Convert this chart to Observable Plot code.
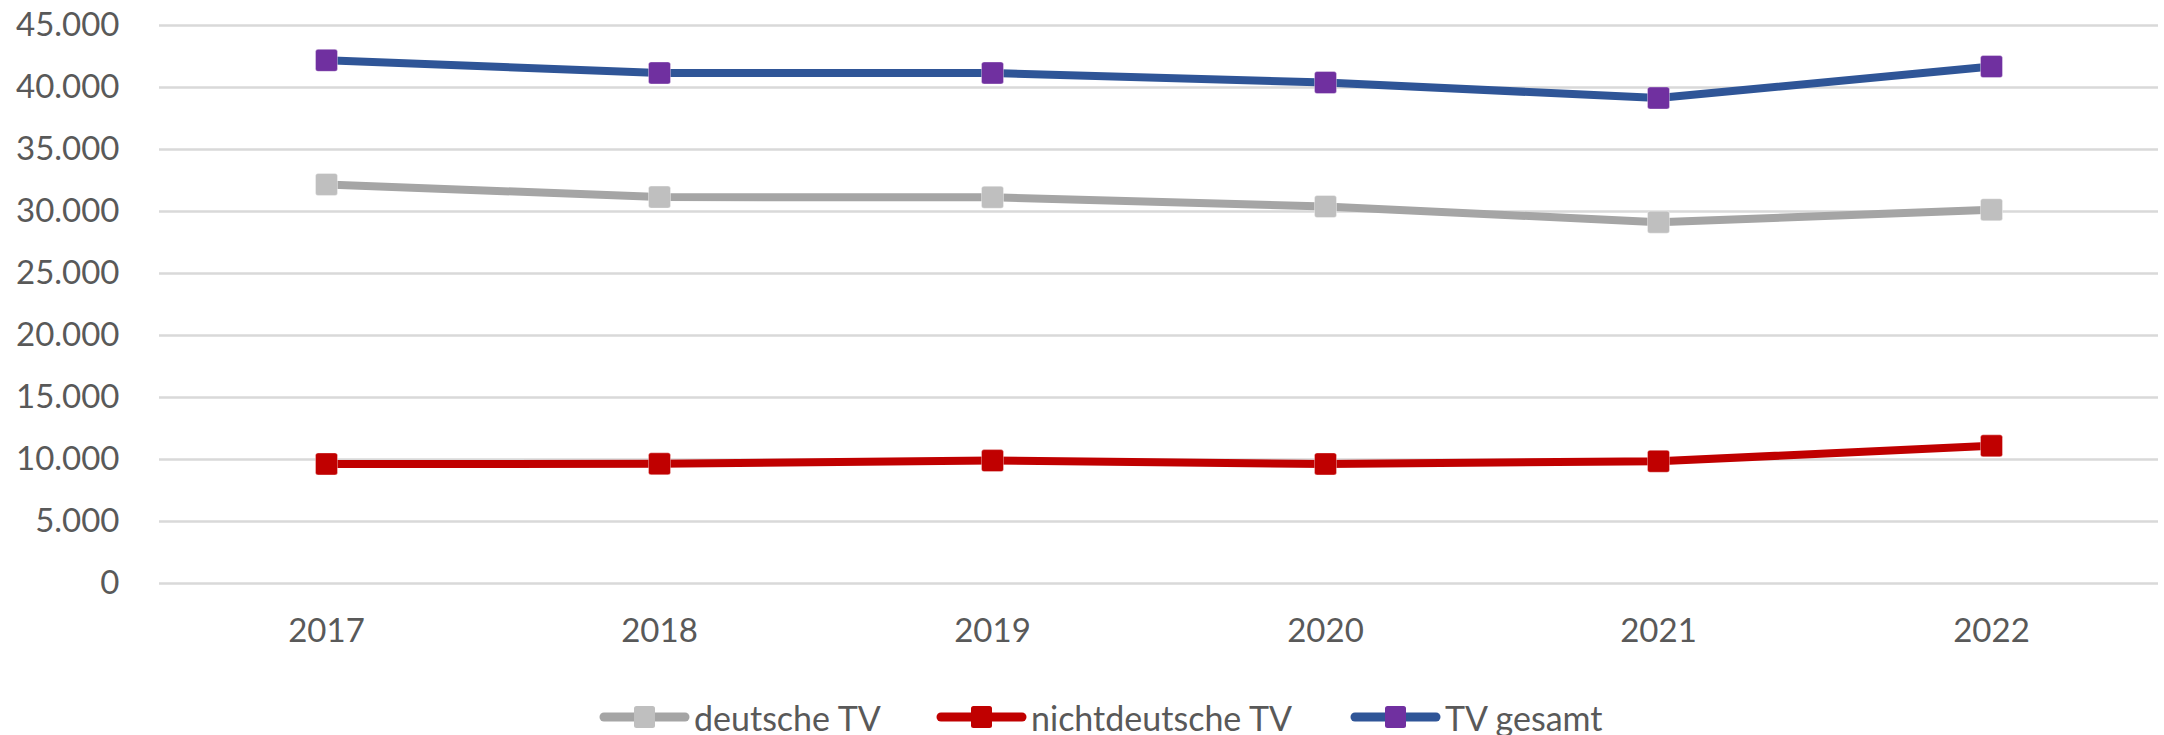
<!DOCTYPE html>
<html>
<head>
<meta charset="utf-8">
<script src="https://cdn.jsdelivr.net/npm/d3@7"></script>
<script src="https://cdn.jsdelivr.net/npm/@observablehq/plot@0.6"></script>
<style>
  html, body { margin: 0; padding: 0; background: #ffffff; overflow: hidden; }
  #chart { width: 2164px; }
  #legend {
    height: 65px; box-sizing: border-box; padding-top: 29px;
    display: flex; align-items: center; justify-content: flex-start;
    padding-left: 599px;
    font-family: Lato, sans-serif; font-size: 34px; color: #595959;
  }
  .item { display: flex; align-items: center; }
  .item svg { margin-right: 4px; }
</style>
</head>
<body>
<div id="chart"></div>
<div id="legend"></div>
<script>
const years = ["2017", "2018", "2019", "2020", "2021", "2022"];
const deutsche = [32180, 31160, 31150, 30400, 29140, 30140];
const nichtdeutsche = [9640, 9650, 9910, 9640, 9860, 11100];
const gesamt = [42190, 41170, 41170, 40400, 39150, 41690];
const seriesNames = ["deutsche TV", "nichtdeutsche TV", "TV gesamt"];
const yTicks = [0, 5000, 10000, 15000, 20000, 25000, 30000, 35000, 40000, 45000];

const lineColors = ["#A5A5A5", "#C00000", "#2F5597"];
const markerColors = ["#BFBFBF", "#C00000", "#7030A0"];
const legendTextWidths = [242, 319, null];
const seriesValues = [deutsche, nichtdeutsche, gesamt];

const de = d3.formatLocale({decimal: ",", thousands: ".", grouping: [3], currency: ["", " €"]});
const fmt = de.format(",d");

const roundedSquare = {
  draw(ctx, size) {
    const s = Math.sqrt(size), h = s / 2, r = 2.5;
    ctx.moveTo(-h + r, -h);
    ctx.lineTo(h - r, -h);
    ctx.arcTo(h, -h, h, -h + r, r);
    ctx.lineTo(h, h - r);
    ctx.arcTo(h, h, h - r, h, r);
    ctx.lineTo(-h + r, h);
    ctx.arcTo(-h, h, -h, h - r, r);
    ctx.lineTo(-h, -h + r);
    ctx.arcTo(-h, -h, -h + r, -h, r);
    ctx.closePath();
  }
};

const marks = [
  Plot.ruleY(yTicks, {stroke: "#D9D9D9", strokeWidth: 2.5}),
  Plot.axisY({ticks: yTicks, tickSize: 0, tickPadding: 40, tickFormat: fmt, label: null}),
  Plot.axisX({tickSize: 0, tickPadding: 35, label: null})
];
seriesValues.forEach((vals, i) => {
  const data = years.map((y, j) => ({year: y, value: vals[j]}));
  marks.push(Plot.line(data, {x: "year", y: "value", stroke: lineColors[i], strokeWidth: 8, strokeLinejoin: "round", strokeLinecap: "round"}));
  marks.push(Plot.dot(data, {x: "year", y: "value", symbol: roundedSquare, r: 22 / Math.sqrt(Math.PI), fill: markerColors[i], stroke: "#ffffff", strokeOpacity: 0.35, strokeWidth: 1}));
});

const chart = Plot.plot({
  width: 2164,
  height: 670,
  marginLeft: 159,
  marginRight: 6,
  marginTop: 25,
  marginBottom: 87,
  style: {fontFamily: "Lato, sans-serif", fontSize: "33px", color: "#595959", background: "#ffffff", overflow: "visible"},
  x: {type: "point", domain: years, padding: 0.5},
  y: {domain: [0, 45000]},
  marks
});
document.getElementById("chart").appendChild(chart);

const legend = document.getElementById("legend");
seriesNames.forEach((name, i) => {
  const item = document.createElement("div");
  item.className = "item";
  const w = legendTextWidths[i] ? `style="display:inline-block;width:${legendTextWidths[i]}px"` : "";
  item.innerHTML =
    `<svg width="91" height="26" viewBox="0 0 91 26">
       <line x1="5" y1="13" x2="86" y2="13" stroke="${lineColors[i]}" stroke-width="9" stroke-linecap="round"/>
       <rect x="35" y="2" width="21" height="22" rx="2.5" fill="${markerColors[i]}"/>
     </svg><span ${w}>${name}</span>`;
  legend.appendChild(item);
});
</script>
</body>
</html>
